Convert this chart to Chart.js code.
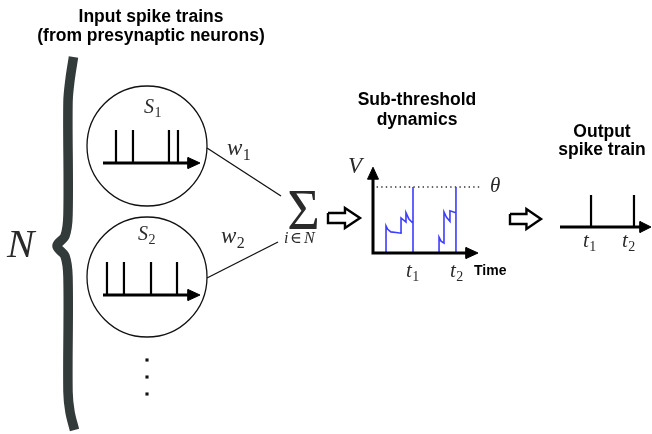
<!DOCTYPE html>
<html>
<head>
<meta charset="utf-8">
<script src="https://cdn.jsdelivr.net/npm/chart.js@4.4.1/dist/chart.umd.min.js"></script>
<style>
html,body{margin:0;padding:0;background:#fff;}
#wrap{width:652px;height:434px;position:relative;}
</style>
</head>
<body>
<div id="wrap"><canvas id="c" width="652" height="434"></canvas></div>
<script>
// ---------- data ----------
const inputTrains = ['S1', 'S2'];
const s1Spikes = [1.34, 3.09, 6.80, 7.73];      // spike times (train time units 0..10)
const s2Spikes = [0.41, 2.16, 4.95, 7.63];
const traceT = [0, 1.24, 1.24, 1.40, 1.70, 2.20, 2.67, 2.67, 2.90, 3.14, 3.14, 3.40, 3.81, 3.81, 3.81, 6.29, 6.29, 6.48, 6.76, 6.76, 7.00, 7.33, 7.33, 7.90, 7.90, 7.90];
const traceV = [0, 0, 0.41, 0.36, 0.32, 0.31, 0.30, 0.53, 0.50, 0.47, 0.61, 0.52, 0.45, 1.00, 0, 0, 0.24, 0.18, 0.15, 0.62, 0.54, 0.48, 0.64, 0.61, 1.00, 0];
const thresholdV = 1.0;
const outputSpikes = [3.41, 8.13];

// ---------- layout ----------
const W = 652, H = 434;
const trainLayout = [
  {cx: 147, cy: 146, r: 60, ax0: 103, ay: 163, unit: 9.7, amp: 33, spikes: s1Spikes, lbl: [144, 113], w: [227, 155], wLine: [[207,148],[281,196]]},
  {cx: 147, cy: 277, r: 60, ax0: 103, ay: 295, unit: 9.7, amp: 33, spikes: s2Spikes, lbl: [138, 240], w: [221, 243], wLine: [[207,278],[278,242]]}
];
const G = {x0: 373, y0: 253, tu: 10.5, vu: 66, tLen: 10, vLen: 1.3};
const O = {x0: 560, y0: 227, tu: 9.1, amp: 32, len: 10};

function spikeSegs(x0, y0, unit, amp, times) {
  const pts = [];
  times.forEach(t => {
    const x = x0 + t * unit;
    pts.push({x: x, y: y0}, {x: x, y: y0 - amp}, {x: x, y: null});
  });
  return pts;
}
function arrowHead(tipX, tipY, dir, len, half) {
  if (dir === 'right') return [{x: tipX, y: tipY}, {x: tipX - len, y: tipY - half}, {x: tipX - len, y: tipY + half}, {x: tipX, y: tipY}];
  return [{x: tipX, y: tipY}, {x: tipX - half, y: tipY + len}, {x: tipX + half, y: tipY + len}, {x: tipX, y: tipY}];
}
function hollowArrow(x0, cy, len) {
  const s = x0 + len * 0.53;
  return [{x:x0,y:cy-5},{x:s,y:cy-5},{x:s,y:cy-10},{x:x0+len,y:cy},{x:s,y:cy+10},{x:s,y:cy+5},{x:x0,y:cy+5},{x:x0,y:cy-5}];
}

const base = {pointRadius: 0, tension: 0, fill: false, borderColor: '#000', backgroundColor: 'transparent'};
const datasets = [];
function add(o) { datasets.push(Object.assign({}, base, o)); }

// brace
add({data: [{x:73.5,y:57},{x:70,y:80},{x:68,y:102},{x:68,y:215},{x:65,y:236},{x:57,y:246},{x:65,y:256},{x:68,y:277},{x:68,y:392},{x:70,y:412},{x:74.5,y:430}],
     borderColor: '#333a3a', borderWidth: 9.5, tension: 0.35, order: 20, borderCapStyle: 'butt'});

trainLayout.forEach((L) => {
  add({data: [{x: L.cx, y: L.cy}], showLine: false, pointRadius: L.r, pointHoverRadius: L.r, pointBorderWidth: 1.3, pointBorderColor: '#111', pointBackgroundColor: 'transparent', order: 15});
  add({data: [{x: L.wLine[0][0], y: L.wLine[0][1]}, {x: L.wLine[1][0], y: L.wLine[1][1]}], borderWidth: 1.3, borderColor: '#111', order: 14});
  add({data: [{x: L.ax0, y: L.ay}, {x: L.ax0 + 10 * L.unit - 10, y: L.ay}], borderWidth: 3, order: 10});
  add({data: spikeSegs(L.ax0, L.ay, L.unit, L.amp, L.spikes), borderWidth: 2.2, order: 10});
  add({data: arrowHead(L.ax0 + 10 * L.unit, L.ay, 'right', 12, 5.5), fill: 'shape', backgroundColor: '#000', borderWidth: 1, order: 9});
});

// hollow arrows
add({data: hollowArrow(328, 218, 32), fill: 'shape', backgroundColor: '#fff', borderWidth: 2.4, borderJoinStyle: 'miter', order: 8});
add({data: hollowArrow(510, 219, 31), fill: 'shape', backgroundColor: '#fff', borderWidth: 2.4, borderJoinStyle: 'miter', order: 8});

// threshold
add({data: [{x: G.x0 - 1, y: G.y0 - thresholdV * G.vu}, {x: G.x0 + 10.3 * G.tu, y: G.y0 - thresholdV * G.vu}], borderWidth: 1.4, borderDash: [1.4, 3.2], borderColor: '#333', order: 7});
// membrane trace
add({data: traceT.map((t, i) => ({x: G.x0 + t * G.tu, y: G.y0 - traceV[i] * G.vu})), borderColor: '#3d3dff', borderWidth: 1.6, order: 6});
// graph axes
add({data: [{x: G.x0, y: G.y0 - G.vLen * G.vu + 10}, {x: G.x0, y: G.y0}, {x: G.x0 + G.tLen * G.tu - 10, y: G.y0}], borderWidth: 3, borderJoinStyle: 'miter', order: 2});
add({data: arrowHead(G.x0, G.y0 - G.vLen * G.vu, 'up', 12, 5.5), fill: 'shape', backgroundColor: '#000', borderWidth: 1, order: 1});
add({data: arrowHead(G.x0 + G.tLen * G.tu, G.y0, 'right', 12, 5.5), fill: 'shape', backgroundColor: '#000', borderWidth: 1, order: 1});

// output train
add({data: [{x: O.x0, y: O.y0}, {x: O.x0 + O.len * O.tu - 9, y: O.y0}], borderWidth: 3, order: 3});
add({data: spikeSegs(O.x0, O.y0, O.tu, O.amp, outputSpikes), borderWidth: 2.2, order: 3});
add({data: arrowHead(O.x0 + O.len * O.tu, O.y0, 'right', 11, 5.5), fill: 'shape', backgroundColor: '#000', borderWidth: 1, order: 3});

// ellipsis dots
add({data: [{x:147,y:360},{x:147,y:377},{x:147,y:394}], showLine: false, pointStyle: 'rect', pointRadius: 2.2, pointBackgroundColor: '#111', pointBorderWidth: 0, order: 3});

// ---------- text ----------
const SANS = '"Liberation Sans", Arial, Helvetica, sans-serif';
const SERIF = '"Liberation Serif", "DejaVu Serif", serif';
const texts = [
  {t: 'Input spike trains', x: 151, y: 22, f: 'bold 17.5px ' + SANS, a: 'center'},
  {t: '(from presynaptic neurons)', x: 151, y: 41, f: 'bold 17.5px ' + SANS, a: 'center'},
  {t: 'Sub-threshold', x: 417, y: 105, f: 'bold 17.5px ' + SANS, a: 'center'},
  {t: 'dynamics', x: 417, y: 125, f: 'bold 17.5px ' + SANS, a: 'center'},
  {t: 'Output', x: 602, y: 137, f: 'bold 17.5px ' + SANS, a: 'center'},
  {t: 'spike train', x: 602, y: 155, f: 'bold 17.5px ' + SANS, a: 'center'},
  {t: 'Time', x: 474, y: 275, f: 'bold 14px ' + SANS, a: 'left'}
];
const maths = [
  {m: 'S', s: '1', x: trainLayout[0].lbl[0], y: trainLayout[0].lbl[1], size: 20},
  {m: 'S', s: '2', x: trainLayout[1].lbl[0], y: trainLayout[1].lbl[1], size: 20},
  {m: 'w', s: '1', x: trainLayout[0].w[0], y: trainLayout[0].w[1], size: 23},
  {m: 'w', s: '2', x: trainLayout[1].w[0], y: trainLayout[1].w[1], size: 23},
  {m: 'V', s: '', x: 348, y: 173, size: 23},
  {m: 'θ', s: '', x: 490, y: 192, size: 21},
  {m: 't', s: '1', x: 406, y: 277, size: 21},
  {m: 't', s: '2', x: 450, y: 277, size: 21},
  {m: 't', s: '1', x: 583, y: 247, size: 21},
  {m: 't', s: '2', x: 622, y: 247, size: 21},
  {m: 'N', s: '', x: 7, y: 257, size: 41}
];

const textPlugin = {
  id: 'labels',
  afterDatasetsDraw(chart) {
    const ctx = chart.ctx, sx = chart.scales.x, sy = chart.scales.y;
    ctx.save();
    ctx.textBaseline = 'alphabetic';
    ctx.fillStyle = '#000';
    texts.forEach(o => {
      ctx.font = o.f; ctx.textAlign = o.a;
      ctx.fillText(o.t, sx.getPixelForValue(o.x), sy.getPixelForValue(o.y));
    });
    ctx.fillStyle = '#2a2a2a';
    ctx.textAlign = 'left';
    maths.forEach(o => {
      const px = sx.getPixelForValue(o.x), py = sy.getPixelForValue(o.y);
      ctx.font = 'italic ' + o.size + 'px ' + SERIF;
      ctx.fillText(o.m, px, py);
      if (o.s) {
        const w = ctx.measureText(o.m).width;
        ctx.font = Math.round(o.size * 0.68) + 'px ' + SERIF;
        ctx.fillText(o.s, px + w + 0.5, py + o.size * 0.2);
      }
    });
    // summation
    ctx.font = '56px ' + SERIF;
    ctx.textAlign = 'center';
    ctx.fillText('\u03A3', sx.getPixelForValue(303.5), sy.getPixelForValue(228.5));
    ctx.textAlign = 'left';
    ctx.font = 'italic 16px ' + SERIF;
    ctx.fillText('i', sx.getPixelForValue(284), sy.getPixelForValue(243));
    ctx.font = '16px ' + SERIF;
    ctx.fillText('\u2208', sx.getPixelForValue(290), sy.getPixelForValue(243));
    ctx.font = 'italic 16px ' + SERIF;
    ctx.fillText('N', sx.getPixelForValue(304), sy.getPixelForValue(243));
    ctx.restore();
  }
};

new Chart(document.getElementById('c'), {
  type: 'line',
  data: {datasets: datasets},
  options: {
    responsive: false,
    animation: false,
    events: [],
    layout: {padding: 0, autoPadding: false},
    scales: {
      x: {type: 'linear', min: 0, max: W, display: false},
      y: {type: 'linear', min: 0, max: H, reverse: true, display: false}
    },
    plugins: {legend: {display: false}, tooltip: {enabled: false}}
  },
  plugins: [textPlugin]
});
</script>
</body>
</html>
